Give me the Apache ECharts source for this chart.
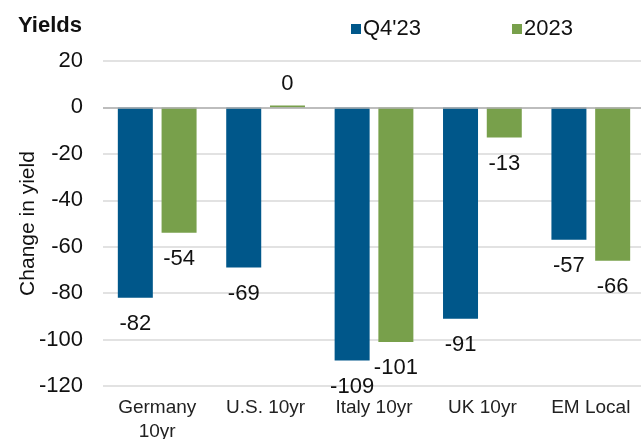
<!DOCTYPE html>
<html>
<head>
<meta charset="utf-8">
<script src="https://cdn.jsdelivr.net/npm/echarts@6/dist/echarts.min.js"></script>
<style>
  html, body { margin: 0; padding: 0; background: #fff; }
  #chart { width: 641px; height: 439px; }
</style>
</head>
<body>
<div id="chart"></div>
<script>
const categories = ['Germany\n10yr', 'U.S. 10yr', 'Italy 10yr', 'UK 10yr', 'EM Local']
const q4Values = [-82, -69, -109, -91, -57]
const yearValues = [-54, 0, -101, -13, -66]
const yTicks = { min: -120, max: 20, interval: 20 }

const font = 'Liberation Sans, Arial, sans-serif'

// label under the bar when negative, above it when zero
function toData(arr) {
  return arr.map(v => ({
    value: v,
    label: v < 0 ? { position: 'bottom', distance: 15 } : { position: 'top', distance: 10 }
  }))
}

const chart = echarts.init(document.getElementById('chart'))
chart.setOption({
  animation: false,
  title: {
    text: 'Yields',
    left: 13,
    top: 10,
    textStyle: { fontFamily: font, fontSize: 22, fontWeight: 'bold', color: '#111' }
  },
  legend: {
    left: 346,
    top: 13,
    itemWidth: 10,
    itemHeight: 10,
    itemGap: 91,
    icon: 'rect',
    textStyle: { fontFamily: font, fontSize: 22, color: '#111', padding: [0, 0, 0, -3] },
    data: ["Q4'23", '2023']
  },
  grid: { left: 103, top: 61, width: 542, height: 325, outerBoundsMode: 'none' },
  xAxis: {
    type: 'category',
    data: categories,
    axisLine: { show: false, onZero: false },
    axisTick: { show: false },
    axisLabel: {
      fontFamily: font,
      fontSize: 19,
      color: '#222',
      margin: 10,
      lineHeight: 24
    }
  },
  yAxis: {
    type: 'value',
    min: yTicks.min,
    max: yTicks.max,
    interval: yTicks.interval,
    name: 'Change in yield',
    nameLocation: 'middle',
    nameGap: 64,
    nameMoveOverlap: false,
    nameTextStyle: { fontFamily: font, fontSize: 21, color: '#111' },
    axisLine: { show: false },
    axisTick: { show: false },
    axisLabel: { fontFamily: font, fontSize: 22, color: '#111', margin: 20 },
    splitLine: { lineStyle: { color: '#d9d9d9', width: 1.5 } }
  },
  series: [
    {
      name: "Q4'23",
      type: 'bar',
      data: toData(q4Values),
      barWidth: 35,
      barGap: '25%',
      itemStyle: { color: '#00578a' },
      label: {
        show: true,
        fontFamily: font,
        fontSize: 22,
        color: '#111'
      },
      markLine: {
        silent: true,
        symbol: 'none',
        label: { show: false },
        lineStyle: { color: '#b0b0b0', type: 'solid', width: 1.5 },
        data: [{ yAxis: 0 }]
      }
    },
    {
      name: '2023',
      type: 'bar',
      data: toData(yearValues),
      barWidth: 35,
      barGap: '25%',
      barMinHeight: 2,
      itemStyle: { color: '#78a04b' },
      label: {
        show: true,
        fontFamily: font,
        fontSize: 22,
        color: '#111'
      }
    }
  ]
})
</script>
</body>
</html>
